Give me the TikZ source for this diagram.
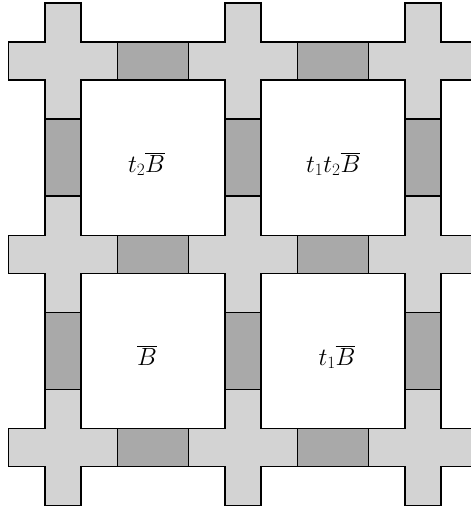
\documentclass[tikz,border=0pt]{standalone}
\definecolor{crossgray}{HTML}{D3D3D3}
\definecolor{edgegray}{HTML}{A9A9A9}
\tikzset{
  crossshape/.style={fill=crossgray, draw=black, line width=1.3pt, line join=miter},
  edgebox/.style={fill=edgegray, draw=black, line width=1.3pt},
  lab/.style={font=\fontsize{26}{31}\selectfont, inner sep=0pt, anchor=base}
}
\begin{document}
\begin{tikzpicture}[x=1pt,y=-1pt]
\useasboundingbox (0,0) rectangle (471,509);
\clip (0,0) rectangle (471,509);
\def\hx{18}\def\hy{19}\def\lx{54.5}\def\ly{58}
% crosses
\foreach \cx in {63,243,423}{
  \foreach \cy in {61,254.5,447.5}{
    \draw[crossshape] (\cx-\hx,\cy-\ly) -- (\cx+\hx,\cy-\ly) -- (\cx+\hx,\cy-\hy) -- (\cx+\lx,\cy-\hy)
      -- (\cx+\lx,\cy+\hy) -- (\cx+\hx,\cy+\hy) -- (\cx+\hx,\cy+\ly) -- (\cx-\hx,\cy+\ly)
      -- (\cx-\hx,\cy+\hy) -- (\cx-\lx,\cy+\hy) -- (\cx-\lx,\cy-\hy) -- (\cx-\hx,\cy-\hy) -- cycle;
  }}
% horizontal edge boxes
\foreach \cx in {63,243}{
  \foreach \cy in {61,254.5,447.5}{
    \draw[edgebox] (\cx+\lx,\cy-\hy) rectangle (\cx+180-\lx,\cy+\hy);
  }}
% vertical edge boxes
\foreach \cx in {63,243,423}{
  \foreach \cy in {61,254.5}{
    \draw[edgebox] (\cx-\hx,\cy+\ly) rectangle (\cx+\hx,\cy+193-\ly);
  }}
% labels
\node[lab] (f1) at (146.5,172) {$t_2\overline{B}$};
\node[lab] (f2) at (333.3,172) {$t_1t_2\overline{B}$};
\node[lab] (f3) at (147,365) {$\overline{B}$};
\node[lab] (f4) at (337,365) {$t_1\overline{B}$};
\end{tikzpicture}
\end{document}
